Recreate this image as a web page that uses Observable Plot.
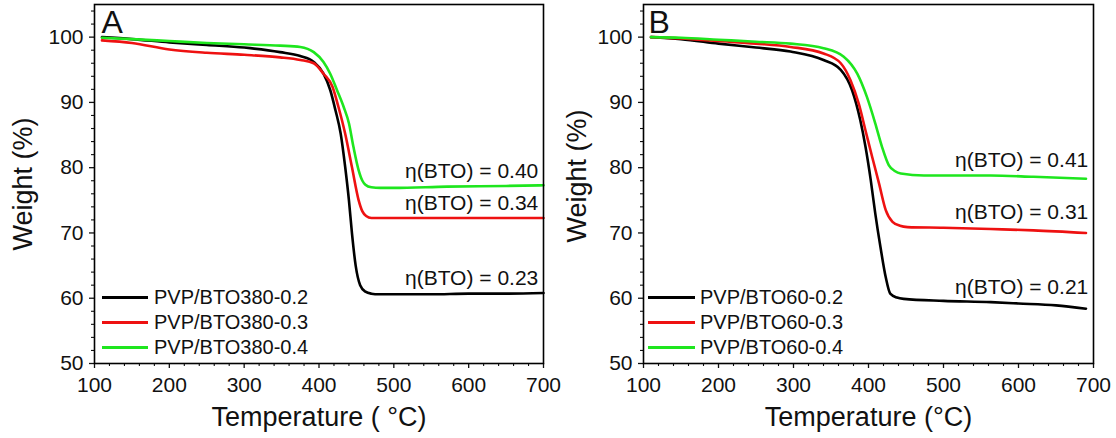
<!DOCTYPE html>
<html>
<head>
<meta charset="utf-8">
<script src="https://cdn.jsdelivr.net/npm/d3@7"></script>
<script src="https://cdn.jsdelivr.net/npm/@observablehq/plot@0.6"></script>
<style>
  body { margin: 0; background: #fff; font-family: Arial, "Liberation Sans", sans-serif; }
  #wrap { position: relative; width: 1116px; height: 438px; overflow: hidden; background: #fff; }
  .panel { position: absolute; top: 0; }
  .legend { position: absolute; font-size: 20px; color: #111; }
  .legend .row { position: absolute; white-space: nowrap; display: flex; align-items: center; height: 24px; }
  .legend .sw { display: inline-block; height: 3px; }
</style>
</head>
<body>
<div id="wrap"></div>
<script>
// ---------- data ----------
const seriesA = ["PVP/BTO380-0.2", "PVP/BTO380-0.3", "PVP/BTO380-0.4"];
const seriesB = ["PVP/BTO60-0.2", "PVP/BTO60-0.3", "PVP/BTO60-0.4"];
const colors = ["#000000", "#ee1111", "#1ee61e"];

const tA02 = [110,150,200,250,300,348,375,393,406,415,422,429,435,440,444,449,455,462,470,480,500,550,600,650,700];
const wA02 = [100.0,99.7,99.2,98.8,98.4,97.7,97.1,96.2,94.4,91.9,88.8,85.2,80.1,75.0,70.0,65.0,62.0,61.0,60.7,60.6,60.6,60.6,60.7,60.7,60.8];
const tA03 = [110,150,200,250,300,348,375,393,406,418,426,435,444,453,458,463,470,480,500,550,600,650,700];
const wA03 = [99.5,99.1,98.1,97.6,97.3,96.9,96.5,96.0,94.4,92.4,89.3,85.2,80.1,75.0,73.3,72.6,72.3,72.3,72.3,72.3,72.3,72.3,72.3];
const tA04 = [110,150,200,250,300,348,375,393,406,415,424,433,440,446,453,458,462,470,482,500,571,650,700];
const wA04 = [99.9,99.7,99.4,99.1,98.9,98.7,98.5,97.7,96.2,94.4,91.9,89.3,86.8,83.2,79.6,78.0,77.4,77.0,76.9,76.9,77.1,77.2,77.3];

const tB02 = [110,150,200,250,296,340,363,378,389,396,403,409,416,423,429,438,447,500,563,600,650,690];
const wB02 = [100.0,99.7,99.0,98.4,97.8,96.5,95.0,91.9,87.3,83.2,78.1,73.0,67.8,63.2,60.7,60.1,59.9,59.6,59.4,59.2,58.9,58.4];
const tB03 = [110,150,200,250,296,340,363,376,387,396,405,414,423,432,442,452,500,563,620,690];
const wB03 = [100.0,99.8,99.4,99.0,98.5,97.5,96.0,93.4,89.8,85.7,81.6,77.6,73.5,71.7,71.1,70.9,70.8,70.6,70.4,70.0];
const tB04 = [110,150,200,250,296,340,367,385,398,409,418,427,435,443,474,563,620,690];
const wB04 = [100.0,99.9,99.6,99.3,99.0,98.3,97.0,94.4,90.8,86.8,83.2,80.4,79.5,79.1,78.8,78.8,78.6,78.3];

const etaA = ["η(BTO) = 0.40", "η(BTO) = 0.34", "η(BTO) = 0.23"];
const etaAy = [79.5, 74.6, 63.0];
const etaB = ["η(BTO) = 0.41", "η(BTO) = 0.31", "η(BTO) = 0.21"];
const etaBy = [81.2, 73.2, 61.7];
const etaX = 693;

const xMajor = [100,200,300,400,500,600,700];
const yMajor = [50,60,70,80,90,100];
const xMinor = d3.range(100, 701, 20).filter(v => v % 100 !== 0);
const yMinor = d3.range(50, 105.1, 2).filter(v => v % 10 !== 0);

// ---------- build ----------
function rows(series, temps, weights) {
  const out = [];
  series.forEach((s, i) => temps[i].forEach((t, j) => out.push({series: s, t, w: weights[i][j]})));
  return out;
}

function panel(opts) {
  const {series, temps, weights, etas, etaYs, letter, xlabel, width, mL, mR, ylabOffset, ylabDy} = opts;
  const data = rows(series, temps, weights);
  const etaData = etas.map((e, i) => ({e, y: etaYs[i]}));
  return Plot.plot({
    width, height: 438,
    marginLeft: mL, marginRight: mR, marginTop: 4, marginBottom: 75,
    style: {background: "transparent", overflow: "visible", fontFamily: "Arial, 'Liberation Sans', sans-serif", color: "#111"},
    x: {domain: [100, 700]},
    y: {domain: [50, 105]},
    color: {domain: series, range: colors},
    marks: [
      Plot.axisX({ticks: xMajor, tickSize: 5, tickPadding: 9, fontSize: 21, label: null, strokeWidth: 1.3}),
      Plot.axisX({ticks: xMinor, tickSize: 3, text: null, label: null, strokeWidth: 1.1}),
      Plot.axisY({ticks: yMajor, tickSize: 5, tickPadding: 6, fontSize: 21, label: null, strokeWidth: 1.3}),
      Plot.axisY({ticks: yMinor, tickSize: 3, text: null, label: null, strokeWidth: 1.1}),
      Plot.lineY(data, {x: "t", y: "w", z: "series", stroke: "series", strokeWidth: 2.6, curve: "monotone-x"}),
      Plot.text(etaData, {x: etaX, y: "y", text: "e", textAnchor: "end", lineAnchor: "middle", fontSize: 21, fill: "#111"}),
      Plot.text([letter], {frameAnchor: "top-left", textAnchor: "start", dx: letter === "A" ? 7 : 5, dy: 6, lineAnchor: "top", fontSize: 32, fill: "#111"}),
      Plot.text([xlabel], {frameAnchor: "bottom", textAnchor: "middle", lineAnchor: "middle", dy: 54, fontSize: 27, fill: "#111"}),
      Plot.text(["Weight (%)"], {frameAnchor: "left", textAnchor: "middle", lineAnchor: "middle", dx: -ylabOffset, dy: ylabDy, rotate: -90, fontSize: 27, fill: "#111"}),
      Plot.frame({stroke: "#000", strokeWidth: 1.6})
    ]
  });
}

function legend(series, left, lineW, gap) {
  const div = document.createElement("div");
  div.className = "legend";
  const ys = [297, 322, 347];
  series.forEach((s, i) => {
    const r = document.createElement("div");
    r.className = "row";
    r.style.left = left + "px";
    r.style.top = (ys[i] - 12) + "px";
    const sw = document.createElement("span");
    sw.className = "sw";
    sw.style.width = lineW + "px";
    sw.style.background = colors[i];
    sw.style.marginRight = gap + "px";
    const tx = document.createElement("span");
    tx.textContent = s;
    r.appendChild(sw); r.appendChild(tx);
    div.appendChild(r);
  });
  return div;
}

const wrap = document.getElementById("wrap");
const pA = panel({series: seriesA, temps: [tA02, tA03, tA04], weights: [wA02, wA03, wA04],
  etas: etaA, etaYs: etaAy, letter: "A", xlabel: "Temperature ( °C)", width: 570, mL: 94, mR: 27, ylabOffset: 71, ylabDy: 0});
pA.classList.add("panel"); pA.style.left = "0px";
const pB = panel({series: seriesB, temps: [tB02, tB03, tB04], weights: [wB02, wB03, wB04],
  etas: etaB, etaYs: etaBy, letter: "B", xlabel: "Temperature (°C)", width: 558, mL: 85, mR: 23, ylabOffset: 66, ylabDy: -8});
pB.classList.add("panel"); pB.style.left = "558px";
wrap.appendChild(pA);
wrap.appendChild(pB);
wrap.appendChild(legend(seriesA, 102, 46, 6));
wrap.appendChild(legend(seriesB, 648, 47, 5));
</script>
</body>
</html>
